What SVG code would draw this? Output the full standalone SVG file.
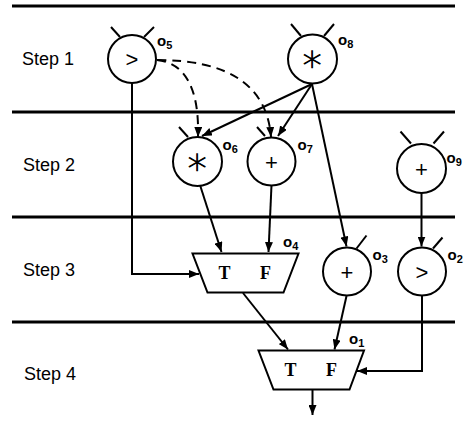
<svg xmlns="http://www.w3.org/2000/svg" width="465" height="425" viewBox="0 0 465 425">
<style>
.sep{stroke:#000;stroke-width:3}
.step{font-family:"Liberation Sans",Arial,sans-serif;font-size:18px;fill:#000}
.op{fill:#fff;stroke:#000;stroke-width:2}
.ant{stroke:#000;stroke-width:2;fill:none}
.sym{font-family:"Liberation Sans",Arial,sans-serif;font-size:22px;fill:#000;text-anchor:middle}
.star{font-family:"DejaVu Sans",sans-serif;font-size:38px;font-weight:200;fill:#000;stroke:#000;stroke-width:0.8;text-anchor:middle}
.lbl{font-family:"Liberation Sans",Arial,sans-serif;font-size:15px;font-weight:bold;fill:#000}
.sub{font-size:11px}
.mux{fill:#fff;stroke:#000;stroke-width:2}
.tf{font-family:"Liberation Serif","Times New Roman",serif;font-size:18px;font-weight:bold;fill:#000;text-anchor:middle}
.c{stroke:#000;stroke-width:2;fill:none;marker-end:url(#ah)}
.d{stroke:#000;stroke-width:2;fill:none;stroke-dasharray:9,6;marker-end:url(#ah)}
</style>
<defs>
<marker id="ah" viewBox="0 0 10 8" refX="10" refY="4" markerWidth="10" markerHeight="8" orient="auto" markerUnits="userSpaceOnUse">
<path d="M0,0 L10,4 L0,8 z" fill="#000"/>
</marker>
</defs>
<g id="steps">
<line class="sep" x1="12" y1="6" x2="455" y2="6"/>
<line class="sep" x1="12" y1="112" x2="455" y2="112"/>
<line class="sep" x1="12" y1="217" x2="455" y2="217"/>
<line class="sep" x1="12" y1="322" x2="455" y2="322"/>
<text class="step" x="22" y="65">Step 1</text>
<text class="step" x="23" y="171">Step 2</text>
<text class="step" x="23" y="276">Step 3</text>
<text class="step" x="24" y="380">Step 4</text>
</g>
<g id="connectors">
<path class="d" d="M157,60 Q200,65 198,137"/>
<path class="d" d="M157,60 Q265,60 271,137"/>
<path class="c" d="M312,84 L202,136"/>
<path class="c" d="M312,84 L278,136"/>
<path class="c" d="M312,84 L346.5,246.5"/>
<path class="c" d="M132,83 L132,274 L199,274"/>
<path class="c" d="M200,185 L221.5,252"/>
<path class="c" d="M271.5,185 L268.5,252"/>
<path class="c" d="M421.5,193 L421.5,246.5"/>
<path class="c" d="M243,293 L288,349.5"/>
<path class="c" d="M346.5,296 L334.5,349.5"/>
<path class="c" d="M422,296 L422,371 L357,371"/>
<path class="c" d="M312.5,389.5 L312.5,415"/>
</g>
<g id="o5">
<line class="ant" x1="111" y1="27" x2="120" y2="37"/>
<line class="ant" x1="154" y1="27" x2="144" y2="37"/>
<circle class="op" cx="132" cy="59" r="24"/>
<text class="sym" x="132" y="67">&gt;</text>
<text class="lbl" x="157" y="46">o<tspan class="sub" dy="3">5</tspan></text>
</g>
<g id="o8">
<line class="ant" x1="291" y1="24" x2="301" y2="36"/>
<line class="ant" x1="334" y1="24" x2="324" y2="36"/>
<circle class="op" cx="312.5" cy="59" r="24.5"/>
<text class="star" x="312.5" y="71">∗</text>
<text class="lbl" x="338" y="45">o<tspan class="sub" dy="3">8</tspan></text>
</g>
<g id="o6">
<line class="ant" x1="179" y1="127" x2="188" y2="137"/>
<circle class="op" cx="197.5" cy="161.5" r="24.5"/>
<text class="star" x="197.5" y="173.5">∗</text>
<text class="lbl" x="222.5" y="150">o<tspan class="sub" dy="3">6</tspan></text>
</g>
<g id="o7">
<line class="ant" x1="257" y1="127" x2="265" y2="136"/>
<circle class="op" cx="271.5" cy="161.5" r="24"/>
<text class="sym" x="271.5" y="169.5">+</text>
<text class="lbl" x="297.5" y="150">o<tspan class="sub" dy="3">7</tspan></text>
</g>
<g id="o9">
<line class="ant" x1="400.5" y1="131.5" x2="411" y2="143.5"/>
<line class="ant" x1="444" y1="131.5" x2="433.5" y2="143.5"/>
<circle class="op" cx="421.5" cy="168.5" r="24.5"/>
<text class="sym" x="421.5" y="176.5">+</text>
<text class="lbl" x="446.5" y="163">o<tspan class="sub" dy="3">9</tspan></text>
</g>
<g id="o4">
<path class="mux" d="M192.5,253.5 L298.5,253.5 L283.5,292.5 L207.5,292.5 Z"/>
<text class="tf" x="224.5" y="279">T</text>
<text class="tf" x="265.5" y="279">F</text>
<text class="lbl" x="283" y="247">o<tspan class="sub" dy="3">4</tspan></text>
</g>
<g id="o3">
<line class="ant" x1="366.5" y1="235.5" x2="356.5" y2="248.5"/>
<circle class="op" cx="347" cy="271.5" r="24"/>
<text class="sym" x="347" y="279.5">+</text>
<text class="lbl" x="372.5" y="260">o<tspan class="sub" dy="3">3</tspan></text>
</g>
<g id="o2">
<line class="ant" x1="442.5" y1="237.5" x2="433" y2="248.5"/>
<circle class="op" cx="422" cy="271.5" r="24"/>
<text class="sym" x="422" y="279.5">&gt;</text>
<text class="lbl" x="447.5" y="260">o<tspan class="sub" dy="3">2</tspan></text>
</g>
<g id="o1">
<path class="mux" d="M258.5,350.5 L364,350.5 L349.5,389.5 L273.5,389.5 Z"/>
<text class="tf" x="290.5" y="376">T</text>
<text class="tf" x="331.5" y="376">F</text>
<text class="lbl" x="349" y="344">o<tspan class="sub" dy="3">1</tspan></text>
</g>
</svg>
